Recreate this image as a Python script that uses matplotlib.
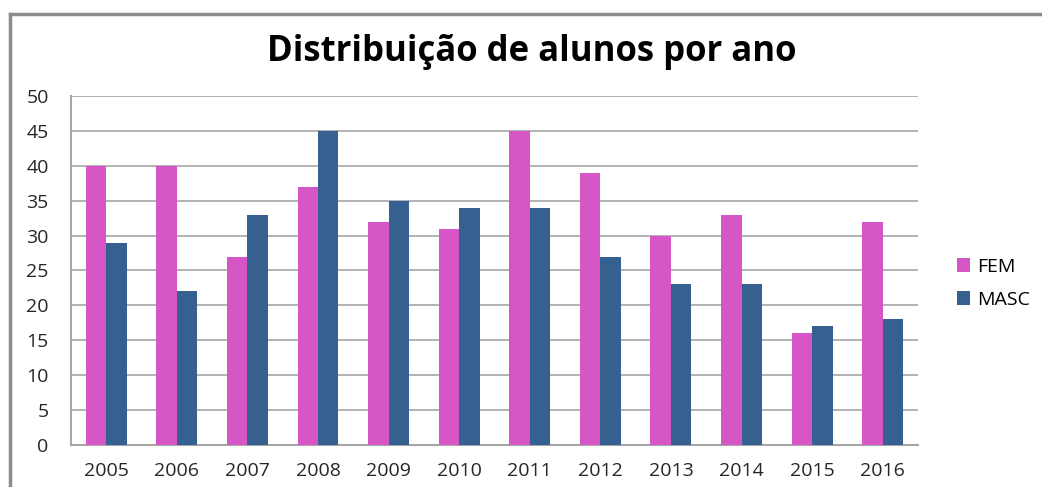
import numpy as np
import matplotlib.pyplot as plt
from matplotlib.lines import Line2D

plt.rcParams['font.family'] = ['Open Sans', 'DejaVu Sans']

# dados
anos = ['2005', '2006', '2007', '2008', '2009', '2010',
        '2011', '2012', '2013', '2014', '2015', '2016']
fem = [40, 40, 27, 37, 32, 31, 45, 39, 30, 33, 16, 32]
masc = [29, 22, 33, 45, 35, 34, 34, 27, 23, 23, 17, 18]

cor_fem = '#D656C6'
cor_masc = '#35608F'

fig = plt.figure(figsize=(10.42, 4.87), dpi=100)
ax = fig.add_axes([0.0681, 0.0862, 0.8129, 0.7168])

x = np.arange(len(anos))
w = 0.29
ax.bar(x - w/2, fem, w, color=cor_fem, label='FEM', zorder=3)
ax.bar(x + w/2, masc, w, color=cor_masc, label='MASC', zorder=3)

ax.set_xlim(-0.5, len(anos) - 0.5)
ax.set_ylim(0, 50)
ax.set_yticks(range(0, 51, 5))
ax.set_xticks(x)
ax.set_xticklabels(anos)
ax.grid(axis='y', color='#A6A6A6', linewidth=1.2, zorder=0)
ax.tick_params(length=0, labelsize=14, labelcolor='#262626')
ax.tick_params(axis='x', pad=12)
ax.tick_params(axis='y', pad=16)
for s in ['top', 'right']:
    ax.spines[s].set_visible(False)
for s in ['left', 'bottom']:
    ax.spines[s].set_color('#A6A6A6')
    ax.spines[s].set_linewidth(1.5)

fig.text(0.51, 0.893, 'Distribuição de alunos por ano', ha='center', va='center',
         fontsize=25, fontweight='bold', color='black')

leg = ax.legend(loc='center left', bbox_to_anchor=(1.025, 0.463), frameon=False,
                fontsize=14, handlelength=0.7, handleheight=0.7,
                labelspacing=0.75, handletextpad=0.35)

# moldura do gráfico
fig.add_artist(Line2D([10/1042, 1], [1 - 14/487, 1 - 14/487], color='#8C8C8C', linewidth=2.5))
fig.add_artist(Line2D([10/1042, 10/1042], [0, 1 - 14/487], color='#8C8C8C', linewidth=2.5))

fig.savefig('out.png', dpi=100)
